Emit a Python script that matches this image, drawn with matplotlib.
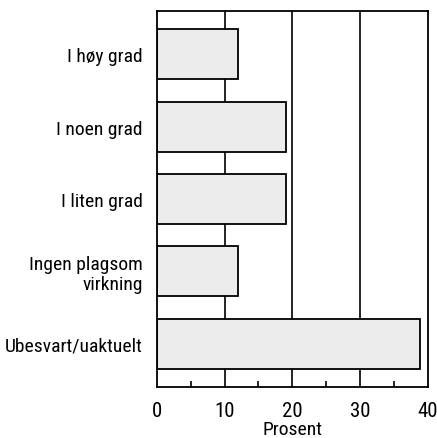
import matplotlib.pyplot as plt

# Data
categories = ["I høy grad", "I noen grad", "I liten grad",
              "Ingen plagsom\nvirkning", "Ubesvart/uaktuelt"]
values = [12, 19, 19, 12, 38.8]
x_ticks = [0, 10, 20, 30, 40]

plt.rcParams["font.family"] = ["Roboto Condensed", "Archivo Narrow", "Liberation Sans"]
plt.rcParams["font.size"] = 14

fig = plt.figure(figsize=(4.37, 4.39), dpi=100)
ax = fig.add_axes([0.359, 0.116, 0.62, 0.857])

ypos = list(range(len(categories)))
for x in [10, 20, 30]:
    ax.axvline(x, color="black", lw=1.2, zorder=1)
ax.barh(ypos, values, height=0.69, color="#ececec", edgecolor="black",
        linewidth=1.3, zorder=2)

ax.set_xlim(0, 40)
ax.set_ylim(len(categories) - 0.4, -0.6)
ax.set_yticks(ypos)
ax.set_yticklabels(categories, ha="right", multialignment="right",
                   fontsize=14, linespacing=1.15)
ax.tick_params(axis="y", length=0, pad=10)
ax.set_xticks(x_ticks)
ax.set_xticks([5, 15, 25, 35], minor=True)
ax.tick_params(axis="x", which="major", length=0, pad=10, labelsize=15)
ax.tick_params(axis="x", which="minor", direction="in", length=4, width=1.2)
ax.set_xlabel("Prosent", fontsize=14, labelpad=0)
for s in ax.spines.values():
    s.set_linewidth(1.3)

fig.savefig("out.png", dpi=100)
